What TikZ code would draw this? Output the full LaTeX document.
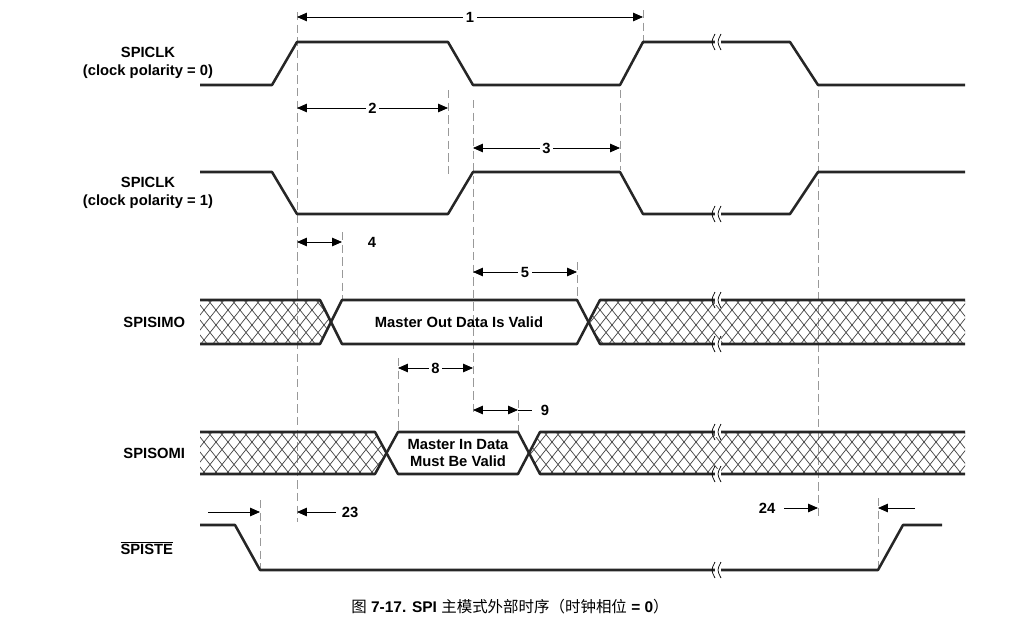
\documentclass[tikz,border=0pt]{standalone}
\usepackage{fontspec}
\setmainfont{Liberation Sans}
\newfontfamily\cjk{Noto Sans CJK SC}
\usetikzlibrary{arrows.meta}

\tikzset{
  sig/.style={line width=1.8pt, black!85, line join=round},
  guide/.style={gray!80, dash pattern=on 6pt off 3pt, line width=0.5pt},
  dim/.style={line width=0.6pt, {Triangle[length=7pt,width=6pt]}-{Triangle[length=7pt,width=6pt]}},
  dimr/.style={line width=0.6pt, -{Triangle[length=7pt,width=6pt]}},
  hatchln/.style={line width=0.5pt, black!75},
  lbl/.style={font=\bfseries\fontsize{10.5}{12.5}\selectfont, align=center, anchor=east},
  num/.style={font=\bfseries\fontsize{10.5}{12}\selectfont, fill=white, inner sep=2pt},
}
% hatched zone: #1 = clip path, #2 = top y
\newcommand\hatchzone[2]{%
  \begin{scope}
    \clip #1;
    \foreach \k in {120,132,...,1020}{
      \draw[hatchln] (\k,#2-5) -- ++(48,60);
      \draw[hatchln] (\k,#2-5) -- ++(-48,60);
    }
  \end{scope}}
% break mark on a line at (#1,#2)
\newcommand\brk[2]{%
  \fill[white] (#1-3,#2-5) rectangle (#1+3,#2+5);
  \draw[line width=0.5pt] (#1-3,#2-8) .. controls (#1-7,#2) .. (#1-3,#2+8);
  \draw[line width=0.5pt] (#1+3,#2-8) .. controls (#1-1,#2) .. (#1+3,#2+8);}

\begin{document}
\begin{tikzpicture}[x=0.025cm, y=-0.025cm]
  \useasboundingbox (0,0) rectangle (1013,632);

  % guide lines
  \draw[guide] (297,12) -- (297,522);
  \draw[guide] (448,90) -- (448,175);
  \draw[guide] (473,100) -- (473,415);
  \draw[guide] (620,90) -- (620,170);
  \draw[guide] (643,10) -- (643,45);
  \draw[guide] (818,90) -- (818,518);
  \draw[guide] (342,232) -- (342,300);
  \draw[guide] (577,262) -- (577,300);
  \draw[guide] (398,358) -- (398,432);
  \draw[guide] (518,400) -- (518,432);
  \draw[guide] (260,500) -- (260,570);
  \draw[guide] (878,498) -- (878,570);

  % SPICLK, polarity 0
  \node[lbl] (clk0) at (218,63) {SPICLK\\(clock polarity = 0)};
  \draw[sig] (200,85) -- (272,85) -- (297,42) -- (448,42) -- (473,85) -- (620,85)
    -- (643,42) -- (790,42) -- (818,85) -- (965,85);
  \brk{718}{42}

  % SPICLK, polarity 1
  \node[lbl] (clk1) at (218,193) {SPICLK\\(clock polarity = 1)};
  \draw[sig] (200,172) -- (272,172) -- (297,214) -- (448,214) -- (473,172) -- (620,172)
    -- (643,214) -- (790,214) -- (818,172) -- (965,172);
  \brk{718}{214}

  % SPISIMO
  \node[lbl] (simo) at (190,322) {SPISIMO};
  \hatchzone{(200,300) -- (320,300) -- (331,322) -- (320,344) -- (200,344) -- cycle}{300}
  \hatchzone{(600,300) -- (965,300) -- (965,344) -- (600,344) -- (589,322) -- cycle}{300}
  \draw[sig] (200,300) -- (320,300) -- (342,344) -- (577,344) -- (600,300) -- (965,300);
  \draw[sig] (200,344) -- (320,344) -- (342,300) -- (577,300) -- (600,344) -- (965,344);
  \node[font=\bfseries\fontsize{10.5}{12}\selectfont] (mo) at (459,322) {Master Out Data Is Valid};
  \brk{718}{300} \brk{718}{344}

  % SPISOMI
  \node[lbl] (somi) at (190,453) {SPISOMI};
  \hatchzone{(200,432) -- (375,432) -- (386,453) -- (375,474) -- (200,474) -- cycle}{432}
  \hatchzone{(540,432) -- (965,432) -- (965,474) -- (540,474) -- (529,453) -- cycle}{432}
  \draw[sig] (200,432) -- (375,432) -- (398,474) -- (518,474) -- (540,432) -- (965,432);
  \draw[sig] (200,474) -- (375,474) -- (398,432) -- (518,432) -- (540,474) -- (965,474);
  \node[font=\bfseries\fontsize{10.5}{12}\selectfont, align=center] (mi) at (458,453)
    {Master In Data\\Must Be Valid};
  \brk{718}{432} \brk{718}{474}

  % SPISTE
  \node[lbl] (ste) at (178,548) {$\overline{\mbox{SPISTE}}$};
  \draw[sig] (200,525) -- (235,525) -- (260,570) -- (878,570) -- (903,525) -- (942,525);
  \brk{718}{570}

  % timing parameters
  \draw[dim] (297,17) -- (643,17) node[num, midway] {1};
  \draw[dim] (297,108) -- (448,108) node[num, midway] {2};
  \draw[dim] (473,148) -- (620,148) node[num, midway] {3};
  \draw[dim] (297,242) -- (342,242);
  \node[num] (p4) at (372,242) {4};
  \draw[dim] (473,272) -- (577,272) node[num, midway] {5};
  \draw[dim] (398,368) -- (473,368) node[num, midway] {8};
  \draw[dim] (473,410) -- (518,410);
  \draw[line width=0.6pt] (518,410) -- (532,410);
  \node[num] (p9) at (545,410) {9};
  \draw[dimr] (208,512) -- (260,512);
  \draw[dimr] (336,512) -- (297,512);
  \node[num] (p23) at (350,512) {23};
  \draw[dimr] (784,508) -- (818,508);
  \node[num] (p24) at (767,508) {24};
  \draw[dimr] (915,508) -- (878,508);

  % caption
  \node[font=\fontsize{11}{13}\selectfont] (cap) at (510,607)
    {{\cjk 图} \textbf{7-17. SPI} {\cjk 主模式外部时序（时钟相位} \textbf{= 0}{\cjk ）}};
\end{tikzpicture}
\end{document}
